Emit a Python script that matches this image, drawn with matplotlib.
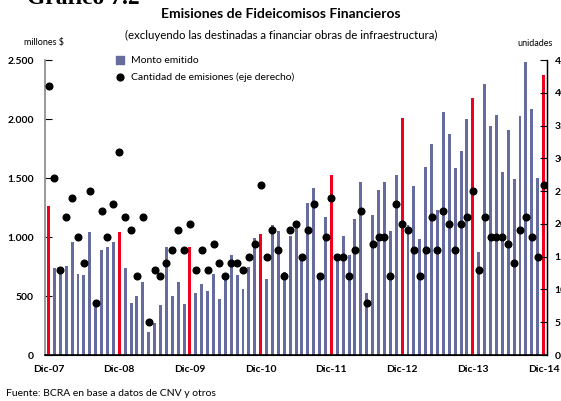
import matplotlib
matplotlib.use('Agg')
import matplotlib.pyplot as plt
import numpy as np

plt.rcParams['font.family'] = ['Lato', 'DejaVu Sans']

# Monto emitido (millones $), monthly Dic-07 .. Dic-14
monto = [1265, 737, 725, 754, 958, 686, 678, 1042, 407, 890, 915, 958,
         1042, 737, 441, 500, 621, 195, 271, 424, 915, 500, 621, 432,
         915, 525, 602, 545, 686, 475, 650, 848, 678, 559, 746, 992,
         1025, 644, 1105, 1051, 703, 1008, 1110, 833, 1288, 1415, 664, 1170,
         1525, 833, 1008, 848, 1153, 1466, 525, 1186, 1398, 1466, 1051, 1525,
         2008, 1102, 1432, 983, 1593, 1788, 1229, 2059, 1873, 1585, 1729, 2000,
         2178, 873, 2297, 1941, 2034, 1551, 1907, 1492, 2025, 2483, 2085, 1500,
         2373]

# Cantidad de emisiones (eje derecho)
cantidad = [41, 27, 13, 21, 24, 18, 14, 25, 8, 22, 18, 23,
            31, 21, 19, 12, 21, 5, 13, 12, 14, 16, 19, 16,
            20, 13, 16, 13, 17, 14, 12, 14, 14, 13, 15, 17,
            26, 15, 19, 16, 12, 19, 20, 15, 19, 23, 12, 18,
            24, 15, 15, 12, 16, 22, 8, 17, 18, 18, 12, 23,
            20, 19, 16, 12, 16, 21, 16, 22, 20, 16, 20, 21,
            25, 13, 21, 18, 18, 18, 17, 14, 19, 21, 18, 15,
            26]

year_labels = ['Dic-07', 'Dic-08', 'Dic-09', 'Dic-10', 'Dic-11', 'Dic-12', 'Dic-13', 'Dic-14']

x = np.arange(len(monto))
colors = ['#f0001c' if i % 12 == 0 else '#666d9e' for i in x]

fig = plt.figure(figsize=(5.61, 4.01), dpi=100)
ax = fig.add_axes([0.0802, 0.1147, 0.895, 0.7355])
ax2 = ax.twinx()

ax.bar(x, monto, width=0.5, color=colors, zorder=2)
ax.set_xlim(-0.6, len(monto) - 0.4)
ax.set_ylim(0, 2500)
ax.set_yticks(np.arange(0, 2501, 500))
ax.set_yticklabels(['0', '500', '1.000', '1.500', '2.000', '2.500'],
                   fontsize=7.5, fontweight='bold')
ax.set_xticks(np.arange(0, len(monto), 12))
ax.set_xticklabels(year_labels, fontsize=7.5, fontweight='bold')
ax.tick_params(axis='x', direction='in', length=3, color='#777777', pad=7)
ax.tick_params(axis='y', direction='in', length=5, pad=8)

ax2.plot(x, cantidad, 'o', color='black', markersize=4.8, zorder=3)
ax2.set_ylim(0, 45)
ax2.set_yticks(np.arange(0, 46, 5))
ax2.set_yticklabels([str(v) for v in range(0, 46, 5)], fontsize=7.5, fontweight='bold')
ax2.tick_params(axis='y', direction='in', length=5, pad=5.5)

for a in (ax, ax2):
    a.spines['top'].set_visible(False)
ax.spines['left'].set_color('#888888')
ax2.spines['left'].set_visible(False)
ax.spines['left'].set_linewidth(1.2)
ax2.spines['right'].set_linewidth(1.0)
ax.spines['bottom'].set_linewidth(1.2)

# legend
ax.scatter([], [], marker='s', color='#666d9e', s=30, label='Monto emitido')
ax.scatter([], [], marker='o', color='black', s=24, label='Cantidad de emisiones (eje derecho)')
ax.legend(loc='upper left', bbox_to_anchor=(0.12, 1.03), frameon=False,
          fontsize=7.5, handletextpad=0.1, labelspacing=0.75, borderaxespad=0)

fig.text(0.048, 1 - 4 / 401, 'Gráfico 7.2', fontsize=17, fontweight='bold',
         family='Liberation Serif', va='baseline', ha='left')
fig.text(0.5, 1 - 14 / 401, 'Emisiones de Fideicomisos Financieros',
         fontsize=10, fontweight='bold', ha='center', va='center')
fig.text(0.502, 1 - 35 / 401,
         '(excluyendo las destinadas a financiar obras de infraestructura)',
         fontsize=8.2, ha='center', va='center')
fig.text(0.078, 1 - 43 / 401, 'millones $', fontsize=6.5, ha='center', va='center')
fig.text(0.953, 1 - 43 / 401, 'unidades', fontsize=6.5, ha='center', va='center')
fig.text(0.01, 1 - 393 / 401, 'Fuente: BCRA en base a datos de CNV y otros',
         fontsize=7.5, ha='left', va='center')

fig.savefig('out.png', dpi=100)
